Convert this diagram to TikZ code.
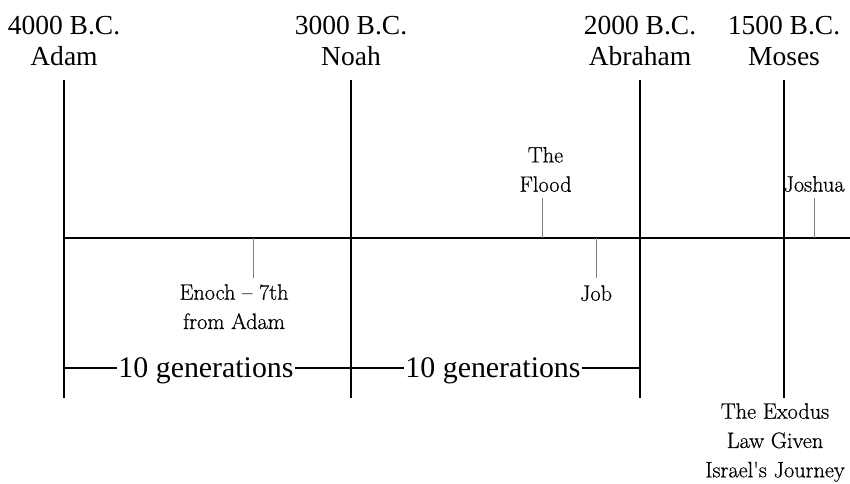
\documentclass[tikz,border=0pt]{standalone}
\usepackage{fontspec}
\setmainfont{Liberation Serif}
\newfontfamily\notefont[FakeBold=0.6]{Latin Modern Roman}
\usetikzlibrary{positioning}

\tikzset{
  era/.style={align=center, inner sep=0pt, font=\fontsize{23.5}{27}\selectfont},
  note/.style={align=center, inner sep=0pt, font=\notefont\fontsize{19}{25}\selectfont},
  gen/.style={inner xsep=1pt, inner ysep=0pt, font=\fontsize{25.5}{28}\selectfont},
  era line/.style={line width=2pt},
  tick/.style={gray, line width=0.8pt},
  gen line/.style={line width=1pt}
}

\begin{document}
\begin{tikzpicture}[x=0.03cm, y=-0.03cm]
\useasboundingbox (0,0) rectangle (850,484);

\coordinate (start) at (63,238);
\coordinate (end) at (850,238);
\draw [era line] (start) -- (end);

% the four eras
\foreach \x/\id/\yr/\who in {64/adam/4000/Adam, 351/noah/3000/Noah, 640/abraham/2000/Abraham, 784/moses/1500/Moses} {
  \node [era] (\id) at (\x,41) {\yr{} B.C.\\\who};
  \coordinate (\id-top) at (\x,80);
  \coordinate (\id-bot) at (\x,398);
  \coordinate (\id-gen) at (\x,368);
  \draw [era line] (\id-top) -- (\id-bot);
}

% events on the line
\coordinate (flood base) at (542,238);
\coordinate (flood tip) at (542,198);
\draw [tick] (flood base) -- (flood tip);
\node [note, above=5pt of flood tip, xshift=3pt] (flood) {The\\Flood};

\coordinate (joshua base) at (814,238);
\coordinate (joshua tip) at (814,198);
\draw [tick] (joshua base) -- (joshua tip);
\node [note, above=5pt of joshua tip] (joshua) {Joshua};

\coordinate (job base) at (596,238);
\coordinate (job tip) at (596,278);
\draw [tick] (job base) -- (job tip);
\node [note, below=6pt of job tip] (job) {Job};

\coordinate (enoch base) at (253,238);
\coordinate (enoch tip) at (253,278);
\draw [tick] (enoch base) -- (enoch tip);
\node [note, anchor=north] (enoch) at (234,284) {Enoch – 7th\\from Adam};

\node [note, anchor=north] (exodus) at (775,403) {The Exodus\\Law Given\\Israel's Journey};

% generations
\node [gen, anchor=base] (gen one) at (206,377) {10 generations};
\node [gen, anchor=base] (gen two) at (493,377) {10 generations};
\draw [gen line] (adam-gen) -- (adam-gen -| gen one.west);
\draw [gen line] (noah-gen -| gen one.east) -- (noah-gen) -- (noah-gen -| gen two.west);
\draw [gen line] (abraham-gen -| gen two.east) -- (abraham-gen);
\end{tikzpicture}
\end{document}
